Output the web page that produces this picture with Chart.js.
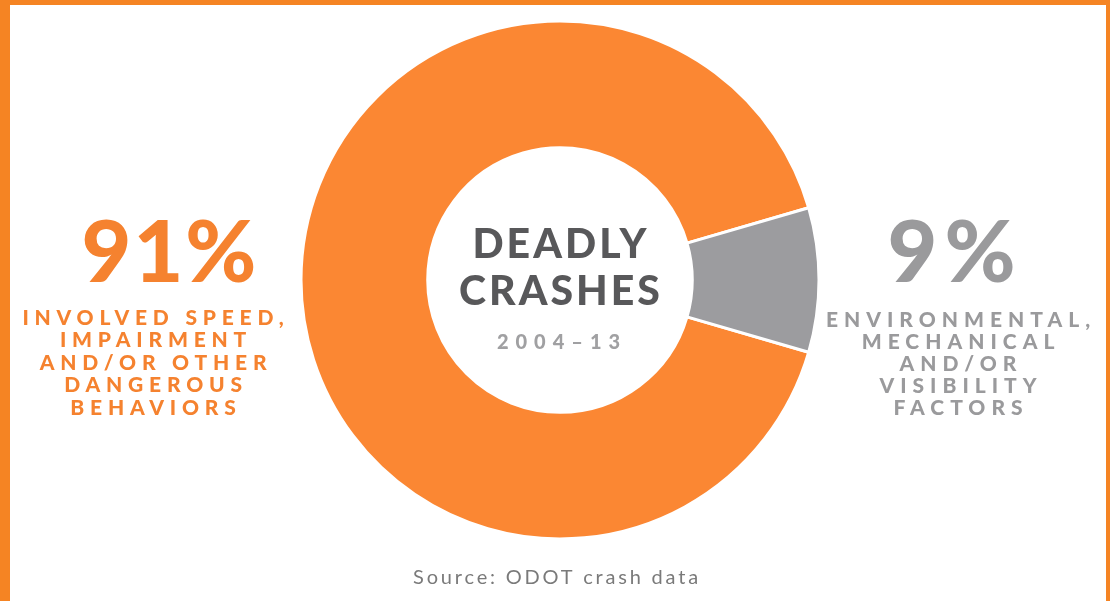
<!DOCTYPE html>
<html>
<head>
<meta charset="utf-8">
<script src="https://cdn.jsdelivr.net/npm/chart.js@4"></script>
<style>
  html, body { margin: 0; padding: 0; background: #fff; }
  .frame {
    position: absolute; left: 0; top: 0; width: 1110px; height: 601px;
    box-sizing: border-box;
    border-left: 10px solid #f58423;
    border-top: 5px solid #f58423;
    border-right: 4px solid #f58423;
  }
  canvas { position: absolute; left: 0; top: 0; }
</style>
</head>
<body>
<div class="frame"></div>
<canvas id="crashChart" width="1110" height="601"></canvas>
<script>
const categories = ['Speed, impairment and/or other dangerous behaviors', 'Environmental, mechanical and/or visibility factors'];
const shares = [91, 9];
const sliceColors = ['#fb8733', '#9c9c9f'];
const leftLines = ['INVOLVED SPEED,', 'IMPAIRMENT', 'AND/OR OTHER', 'DANGEROUS', 'BEHAVIORS'];
const rightLines = ['ENVIRONMENTAL,', 'MECHANICAL', 'AND/OR', 'VISIBILITY', 'FACTORS'];
const centerTitle = ['DEADLY', 'CRASHES'];
const period = '2004–13';
const source = 'Source: ODOT crash data';

const FONT = 'Lato, "Open Sans", sans-serif';

function drawLines(ctx, lines, x, y0, step, font, color, spacing) {
  ctx.font = font;
  ctx.fillStyle = color;
  ctx.letterSpacing = spacing;
  lines.forEach(function(line, i) {
    ctx.fillText(line, x, y0 + i * step);
  });
}

const textPlugin = {
  id: 'infoText',
  afterDraw: function(chart) {
    const ctx = chart.ctx;
    ctx.save();
    ctx.textAlign = 'center';
    ctx.textBaseline = 'middle';

    // left side
    drawLines(ctx, [shares[0] + '%'], 170, 254, 0, '900 86px ' + FONT, '#f5822f', '2px');
    drawLines(ctx, leftLines, 156, 318, 22.5, '900 21px ' + FONT, '#f5822f', '5.8px');

    // right side
    drawLines(ctx, [shares[1] + '%'], 955, 254, 0, '900 86px ' + FONT, '#9a9a9c', '7px');
    drawLines(ctx, rightLines, 961, 320, 22, '900 21px ' + FONT, '#9a9a9c', '6px');

    // centre
    drawLines(ctx, centerTitle, 561, 245, 47, '900 41px ' + FONT, '#58585a', '3px');
    drawLines(ctx, [period], 562, 343, 0, '900 20px ' + FONT, '#a0a0a2', '7px');

    // source
    drawLines(ctx, [source], 557, 578, 0, '400 20px ' + FONT, '#7a7a7a', '2.8px');
    ctx.restore();
  }
};

const ctx = document.getElementById('crashChart').getContext('2d');

const crashChart = new Chart(ctx, {
  type: 'doughnut',
  data: {
    labels: categories,
    datasets: [{
      data: shares,
      backgroundColor: sliceColors,
      borderColor: '#ffffff',
      borderWidth: 3
    }]
  },
  options: {
    responsive: false,
    animation: false,
    rotation: 106.2,
    radius: 259,
    cutout: 131,
    layout: {
      padding: { left: 302, right: 292, top: 22, bottom: 63 }
    },
    plugins: {
      legend: { display: false },
      tooltip: { enabled: false }
    }
  },
  plugins: [textPlugin]
});
</script>
</body>
</html>
